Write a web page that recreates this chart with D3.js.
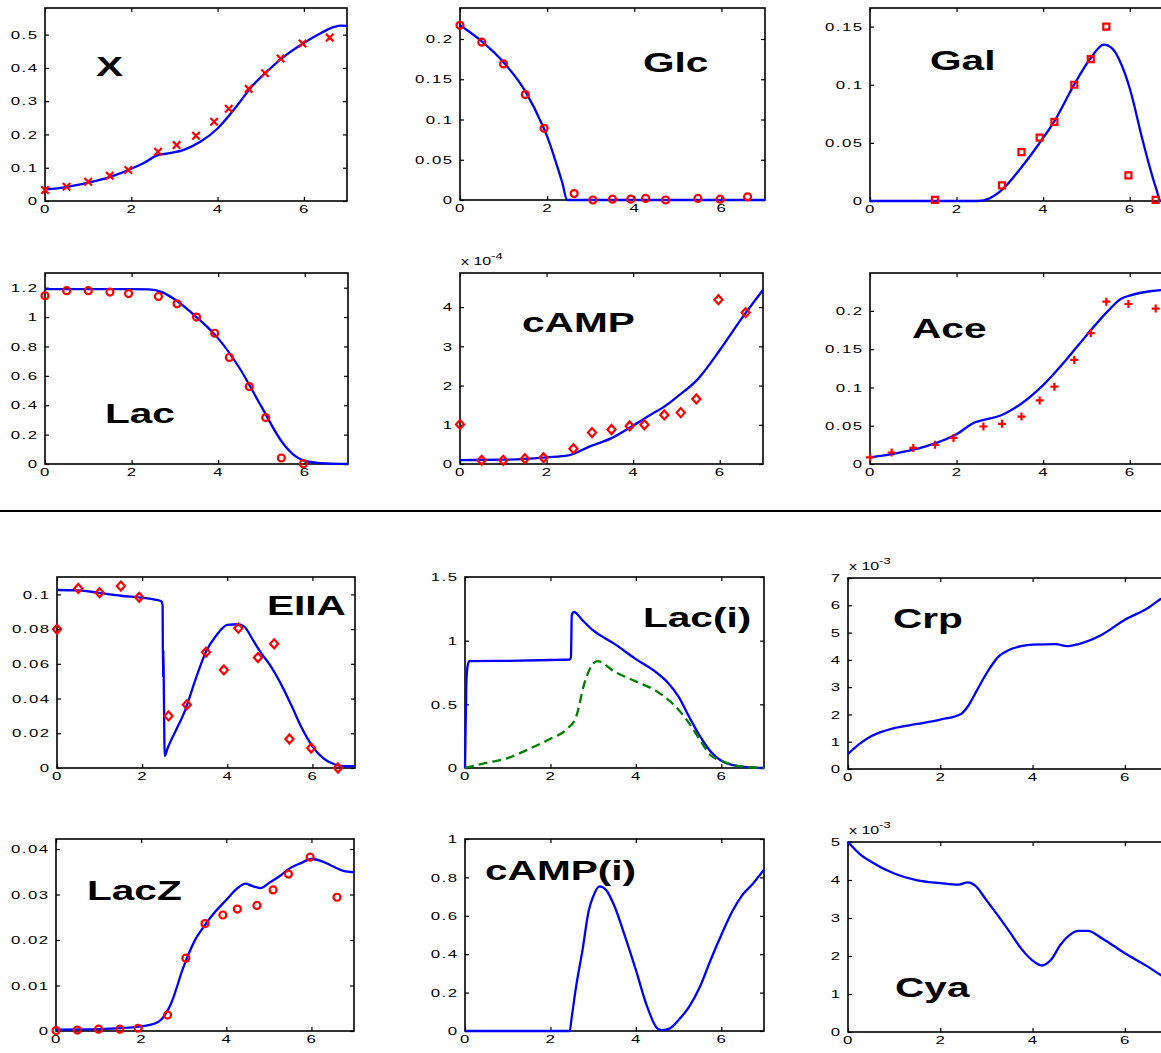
<!DOCTYPE html>
<html>
<head>
<meta charset="utf-8">
<script src="https://cdn.jsdelivr.net/npm/d3@7"></script>
<style>
body { margin: 0; background: #fff; }
svg { display: block; }
.tick text { font-family: "Liberation Sans", Arial, sans-serif; font-size: 11.6px; letter-spacing: 1px; fill: #000; }
.title { font-family: "Liberation Sans", Arial, sans-serif; font-weight: bold; font-size: 28px; fill: #000; }
.expo { font-family: "Liberation Sans", Arial, sans-serif; font-size: 11px; fill: #000; }
</style>
</head>
<body>
<script>
// measured time points (h)
const tExp = [0, 0.5, 1, 1.5, 1.93, 2.62, 3.05, 3.5, 3.92, 4.26, 4.72, 5.1, 5.46, 5.97, 6.6];

// measured values, null = not measured
const xObs    = [0.033, 0.043, 0.058, 0.076, 0.093, 0.148, 0.168, 0.196, 0.238, 0.277, 0.337, 0.384, 0.428, 0.473, 0.491];
const glcObs  = [0.217, 0.196, 0.169, 0.131, 0.089, 0.008, 0.0, 0.001, 0.001, 0.002, 0.0, null, 0.002, 0.001, 0.004];
const galObs  = [null, null, null, 0.001, null, null, 0.0135, 0.042, 0.0545, 0.068, 0.100, 0.122, 0.150, 0.022, 0.001];
const lacObs  = [1.145, 1.18, 1.18, 1.17, 1.16, 1.14, 1.09, 1.0, 0.89, 0.725, 0.527, 0.316, 0.041, 0.002, null];
const campObs = [1.01, 0.093, 0.093, 0.136, 0.16, 0.39, 0.8, 0.88, 0.97, 1.0, 1.25, 1.31, 1.66, 4.19, 3.86]; // x 1e-4
const aceObs  = [0.0087, 0.015, 0.021, 0.025, 0.034, 0.049, 0.0525, 0.062, 0.083, 0.101, 0.136, 0.171, 0.212, 0.209, 0.203];
const eiiaObs = [0.0799, 0.1034, 0.101, 0.1048, 0.0983, 0.030, 0.0364, 0.0667, 0.0565, 0.0805, 0.0636, 0.0715, 0.0167, 0.0115, 0.0];
const laczObs = [0.0001, 0.0002, 0.0004, 0.0004, 0.0006, 0.0035, 0.016, 0.0236, 0.0255, 0.0268, 0.0276, 0.031, 0.0345, 0.0382, 0.0294];

// simulated curves [t, value]
const xFit = [[0,0.035],[0.5,0.042],[1,0.055],[1.5,0.072],[2,0.097],[2.3,0.115],[2.6,0.137],[2.8,0.142],[3.2,0.153],[3.6,0.178],[4,0.218],[4.4,0.278],[4.8,0.345],[5.2,0.396],[5.6,0.44],[6,0.475],[6.4,0.505],[6.7,0.523],[6.85,0.527],[7,0.526]];
const glcFit = [[0,0.217],[0.5,0.197],[1,0.171],[1.5,0.135],[1.9,0.092],[2.0,0.079],[2.2,0.047],[2.35,0.021],[2.46,0],[3,0],[7,0]];
const galFit = [[0,0],[2.5,0],[2.75,0.002],[3,0.008],[3.5,0.029],[3.9,0.049],[4.25,0.068],[4.7,0.099],[5.1,0.123],[5.4,0.1345],[5.6,0.131],[5.8,0.118],[6,0.097],[6.3,0.052],[6.6,0.012],[6.72,0],[7,0]];
const lacFit = [[0,1.19],[1,1.19],[2,1.19],[2.4,1.188],[2.7,1.17],[3,1.12],[3.5,1.0],[4,0.855],[4.5,0.65],[5,0.39],[5.5,0.14],[5.8,0.05],[6,0.022],[6.5,0.004],[7,0]];
const campFit = [[0,0.1],[1,0.11],[1.5,0.13],[2,0.17],[2.5,0.22],[3,0.45],[3.5,0.66],[4,0.98],[4.5,1.32],[4.7,1.45],[5,1.7],[5.5,2.17],[6,2.9],[6.5,3.7],[7,4.44]]; // x 1e-4
const aceFit = [[0,0.0087],[0.5,0.013],[1,0.0187],[1.5,0.027],[2,0.039],[2.45,0.055],[2.55,0.0565],[2.7,0.0585],[3,0.063],[3.5,0.079],[4,0.103],[4.5,0.134],[5,0.168],[5.5,0.2],[5.8,0.216],[6,0.22],[6.5,0.226],[7,0.228]];
const eiiaFit = [[0,0.1025],[0.5,0.1023],[1,0.1008],[1.5,0.0992],[2,0.098],[2.3,0.097],[2.45,0.096],[2.48,0.094],[2.49,0.052],[2.5,0.068],[2.51,0.045],[2.53,0.007],[2.6,0.0115],[2.8,0.022],[3,0.0326],[3.25,0.0508],[3.5,0.067],[3.75,0.0766],[4,0.0824],[4.25,0.0828],[4.4,0.0814],[4.6,0.0738],[4.8,0.066],[5,0.0594],[5.25,0.0489],[5.5,0.0364],[5.75,0.023],[6,0.0125],[6.25,0.0057],[6.5,0.0023],[6.75,0.001],[7,0.001]];
const lacInFit = [[0,0],[0.03,0.65],[0.06,0.8],[0.1,0.84],[1,0.842],[2,0.848],[2.45,0.852],[2.48,0.87],[2.5,1.2],[2.55,1.225],[2.75,1.16],[3,1.08],[3.5,0.975],[4,0.855],[4.5,0.745],[4.75,0.67],[5,0.56],[5.25,0.4],[5.5,0.25],[5.75,0.13],[6,0.057],[6.25,0.025],[6.5,0.01],[6.8,0.003],[7,0]];
const lacInAltFit = [[0,0],[0.5,0.04],[1,0.078],[1.5,0.149],[2,0.23],[2.4,0.31],[2.6,0.4],[2.8,0.67],[3,0.82],[3.1,0.84],[3.5,0.757],[4,0.68],[4.5,0.6],[5,0.457],[5.25,0.35],[5.5,0.22],[5.75,0.1],[6,0.057],[6.5,0.01],[7,0]];
const crpFit = [[0,0.55],[0.25,0.92],[0.5,1.2],[1,1.5],[1.5,1.65],[2,1.81],[2.45,2.02],[2.6,2.3],[2.8,2.9],[3,3.5],[3.25,4.1],[3.5,4.37],[3.75,4.5],[4,4.56],[4.5,4.58],[4.75,4.5],[5,4.58],[5.5,4.92],[6,5.47],[6.5,5.9],[6.75,6.2],[7,6.45]]; // x 1e-3
const laczFit = [[0,0.0003],[1,0.0004],[2,0.001],[2.4,0.002],[2.5,0.0028],[2.7,0.006],[3,0.0142],[3.25,0.0197],[3.5,0.0233],[3.75,0.0263],[4,0.0288],[4.25,0.0313],[4.45,0.0324],[4.6,0.0319],[4.8,0.0314],[5,0.0325],[5.25,0.034],[5.5,0.0358],[5.75,0.0369],[6,0.0378],[6.25,0.0373],[6.5,0.0362],[6.75,0.0352],[7,0.0349]];
const campInFit = [[0,0],[2.45,0],[2.5,0.075],[2.6,0.23],[2.75,0.42],[2.9,0.63],[3,0.7],[3.15,0.753],[3.3,0.735],[3.5,0.65],[3.75,0.49],[4,0.318],[4.25,0.136],[4.5,0.014],[4.6,0.005],[4.8,0.014],[5,0.057],[5.25,0.127],[5.5,0.23],[5.75,0.37],[6,0.5],[6.25,0.62],[6.5,0.71],[6.75,0.77],[7,0.84]];
const cyaFit = [[0,5.0],[0.25,4.69],[0.5,4.48],[1,4.17],[1.5,3.99],[2,3.92],[2.4,3.88],[2.6,3.94],[2.75,3.86],[3,3.47],[3.5,2.64],[3.75,2.2],[4,1.88],[4.2,1.75],[4.4,1.9],[4.6,2.29],[4.8,2.55],[5,2.66],[5.2,2.66],[5.5,2.47],[6,2.07],[6.5,1.72],[6.75,1.52],[7,1.35]]; // x 1e-3

// tick values
const timeTicks = [0, 2, 4, 6];
const xTicksY    = [0, 0.1, 0.2, 0.3, 0.4, 0.5];
const glcTicksY  = [0, 0.05, 0.1, 0.15, 0.2];
const galTicksY  = [0, 0.05, 0.1, 0.15];
const lacTicksY  = [0, 0.2, 0.4, 0.6, 0.8, 1, 1.2];
const campTicksY = [0, 1, 2, 3, 4];
const aceTicksY  = [0, 0.05, 0.1, 0.15, 0.2];
const eiiaTicksY = [0, 0.02, 0.04, 0.06, 0.08, 0.1];
const lacInTicksY = [0, 0.5, 1, 1.5];
const crpTicksY  = [0, 1, 2, 3, 4, 5, 6, 7];
const laczTicksY = [0, 0.01, 0.02, 0.03, 0.04];
const campInTicksY = [0, 0.2, 0.4, 0.6, 0.8, 1];
const cyaTicksY  = [0, 1, 2, 3, 4, 5];

const W = 1161, H = 1053, SX = 1.45;
const BLUE = '#0000ff', RED = '#ff0000', GREEN = '#008000';

const svg = d3.select('body').append('svg')
    .attr('width', W)
    .attr('height', H);

// matlab-like marker shapes
const mkX = {draw(c, s) { const r = Math.sqrt(s) / 2; c.moveTo(-r, -r); c.lineTo(r, r); c.moveTo(r, -r); c.lineTo(-r, r); }};
const mkPlus = {draw(c, s) { const r = Math.sqrt(s) / 2; c.moveTo(-r, 0); c.lineTo(r, 0); c.moveTo(0, -r); c.lineTo(0, r); }};
const mkSquare = {draw(c, s) { const r = Math.sqrt(s) / 2; c.moveTo(-r, -r); c.lineTo(r, -r); c.lineTo(r, r); c.lineTo(-r, r); c.closePath(); }};
const mkDiamond = {draw(c, s) { const r = Math.sqrt(s) / 2; c.moveTo(0, -r); c.lineTo(r * 0.9, 0); c.lineTo(0, r); c.lineTo(-r * 0.9, 0); c.closePath(); }};
const mkCircle = {draw(c, s) { const r = Math.sqrt(s) / 2; c.moveTo(r, 0); c.arc(0, 0, r, 0, 2 * Math.PI); }};

const fmt = d => String(+d.toFixed(4));

const panels = [
  {title: 'X', box: [45, 8, 302, 193], yMax: 0.58, yTicks: xTicksY, tpos: [51, 68], fits: [{d: xFit}], obs: xObs, mk: mkX, ms: 56},
  {title: 'Glc', box: [460, 8, 305, 192], yMax: 0.2385, yTicks: glcTicksY, tpos: [183, 64], fits: [{d: glcFit}], obs: glcObs, mk: mkCircle, ms: 49},
  {title: 'Gal', box: [870, 8, 303, 193], yMax: 0.166, yTicks: galTicksY, tpos: [60, 62], fits: [{d: galFit}], obs: galObs, mk: mkSquare, ms: 36},
  {title: 'Lac', box: [45, 273, 303, 191], yMax: 1.3, yTicks: lacTicksY, tpos: [60, 150], fits: [{d: lacFit}], obs: lacObs, mk: mkCircle, ms: 49},
  {title: 'cAMP', box: [460, 273, 303, 191], yMax: 4.87, yTicks: campTicksY, tpos: [62, 59], fits: [{d: campFit}], obs: campObs, mk: mkDiamond, ms: 81, expo: '-4'},
  {title: 'Ace', box: [870, 273, 303, 191], yMax: 0.2495, yTicks: aceTicksY, tpos: [42, 65], fits: [{d: aceFit}], obs: aceObs, mk: mkPlus, ms: 64},
  {title: 'EIIA', box: [57, 577, 298, 191], yMax: 0.11, yTicks: eiiaTicksY, tpos: [210, 38], fits: [{d: eiiaFit}], obs: eiiaObs, mk: mkDiamond, ms: 81},
  {title: 'Lac(i)', box: [465, 577, 299, 191], yMax: 1.5, yTicks: lacInTicksY, tpos: [178, 50], fits: [{d: lacInFit}, {d: lacInAltFit, color: GREEN, dash: '9,5'}]},
  {title: 'Crp', box: [848, 578, 323, 191], yMax: 7, yTicks: crpTicksY, tpos: [45, 50], fits: [{d: crpFit}], expo: '-3'},
  {title: 'LacZ', box: [56, 839, 298, 192], yMax: 0.0422, yTicks: laczTicksY, tpos: [31, 61], fits: [{d: laczFit}], obs: laczObs, mk: mkCircle, ms: 49},
  {title: 'cAMP(i)', box: [465, 839, 299, 192], yMax: 1, yTicks: campInTicksY, tpos: [20, 41], fits: [{d: campInFit}]},
  {title: 'Cya', box: [848, 842, 323, 190], yMax: 5, yTicks: cyaTicksY, tpos: [47, 155], fits: [{d: cyaFit}], expo: '-3'}
];

panels.forEach(p => {
  const [left, top, w, h] = p.box;
  const g = svg.append('g').attr('transform', `translate(${left},${top})`);
  const x = d3.scaleLinear().domain([0, 7]).range([0, w]);
  const y = d3.scaleLinear().domain([0, p.yMax]).range([h, 0]);

  // axes: inward ticks on all four sides
  const gl = g.append('g').call(d3.axisLeft(y).tickValues(p.yTicks).tickFormat(fmt).tickSizeInner(-4).tickSizeOuter(0).tickPadding(4.5));
  gl.selectAll('text').attr('transform', `scale(${SX},1)`);
  const gb = g.append('g').attr('transform', `translate(0,${h})`)
      .call(d3.axisBottom(x).tickValues(timeTicks).tickFormat(fmt).tickSizeInner(-4).tickSizeOuter(0).tickPadding(4));
  gb.selectAll('text').attr('transform', `scale(${SX},1)`);
  g.append('g').attr('transform', `translate(${w},0)`)
      .call(d3.axisRight(y).tickValues(p.yTicks).tickFormat('').tickSizeInner(-4).tickSizeOuter(0));
  g.append('g')
      .call(d3.axisTop(x).tickValues(timeTicks).tickFormat('').tickSizeInner(-4).tickSizeOuter(0));
  g.selectAll('.domain').remove();
  g.selectAll('.tick line').attr('stroke', '#000').attr('stroke-width', 1.2);

  g.append('rect')
      .attr('width', w).attr('height', h)
      .attr('fill', 'none').attr('stroke', '#000').attr('stroke-width', 1.6);

  if (p.expo) {
    const t = g.append('text').attr('class', 'expo')
        .attr('transform', `translate(1,-8) scale(${SX},1)`);
    t.append('tspan').text('x 10');
    t.append('tspan').attr('dy', -6).attr('font-size', 9).text(p.expo);
  }

  const line = d3.line().x(d => x(d[0])).y(d => y(d[1])).curve(d3.curveMonotoneX);
  p.fits.forEach(f => {
    g.append('path')
        .attr('d', line(f.d))
        .attr('fill', 'none')
        .attr('stroke', f.color || BLUE)
        .attr('stroke-width', 2.3)
        .attr('stroke-dasharray', f.dash || null)
        .attr('stroke-linejoin', 'round');
  });

  if (p.obs) {
    const pts = tExp.map((t, i) => [t, p.obs[i]]).filter(d => d[1] !== null);
    g.selectAll('.mk').data(pts).enter().append('path')
        .attr('class', 'mk')
        .attr('transform', d => `translate(${x(d[0])},${y(d[1])})`)
        .attr('d', d3.symbol().type(p.mk).size(p.ms))
        .attr('fill', 'none')
        .attr('stroke', RED)
        .attr('stroke-width', 2.2);
  }

  g.append('text').attr('class', 'title')
      .attr('transform', `translate(${p.tpos[0]},${p.tpos[1]}) scale(${SX},1)`)
      .text(p.title);
});

// separator between the two figure halves
svg.append('line')
    .attr('x1', 0).attr('x2', W)
    .attr('y1', 511).attr('y2', 511)
    .attr('stroke', '#000').attr('stroke-width', 2);
</script>
</body>
</html>
